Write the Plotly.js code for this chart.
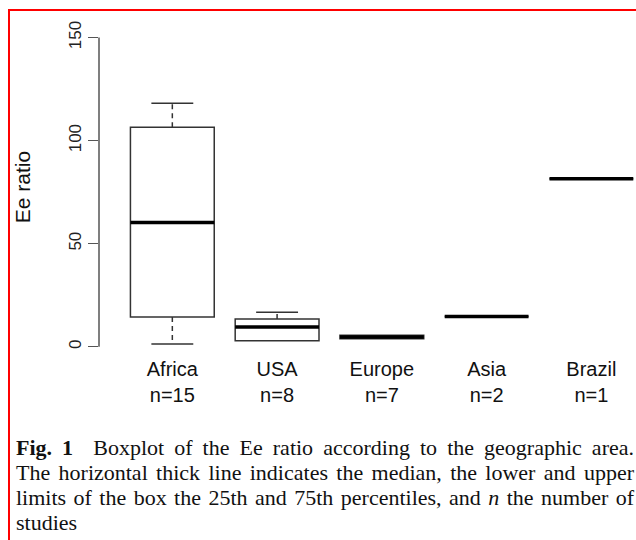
<!DOCTYPE html>
<html>
<head>
<meta charset="utf-8">
<script src="https://cdn.plot.ly/plotly-3.0.1.min.js"></script>
<style>
  html, body { margin: 0; padding: 0; background: #ffffff; overflow: hidden; }
  #wrap { position: relative; width: 636px; height: 540px; overflow: hidden; background: #fff; }
  #chart { position: absolute; left: 0; top: 0; width: 636px; height: 540px; }
  #frame { position: absolute; left: 8px; top: 9px; width: 700px; height: 600px;
           border-top: 2px solid #ff0000; border-left: 2px solid #ff0000; pointer-events: none; }
  #caption { position: absolute; left: 16px; top: 435px; width: 618px;
             font-family: "Liberation Serif", "Times New Roman", serif; font-size: 22px;
             line-height: 25px; color: #111; }
  #caption .ln { text-align: justify; text-align-last: justify; white-space: nowrap; }
  #caption .ln.last { text-align-last: left; }
</style>
</head>
<body>
<div id="wrap">
  <div id="chart"></div>
  <div id="frame"></div>
  <div id="caption">
    <div class="ln"><b>Fig. 1</b>&nbsp; Boxplot of the Ee ratio according to the geographic area.</div>
    <div class="ln">The horizontal thick line indicates the median, the lower and upper</div>
    <div class="ln">limits of the box the 25th and 75th percentiles, and <i>n</i> the number of</div>
    <div class="ln last">studies</div>
  </div>
</div>
<script>
// ---- data ----
var regions = ["Africa", "USA", "Europe", "Asia", "Brazil"];
var nStudies = [15, 8, 7, 2, 1];
var minVals = [1.3, 2.9, 3.9, 14.7, 81.5];
var q1Vals = [14.4, 2.9, 3.9, 14.7, 81.5];
var medianVals = [60.3, 9.6, 4.7, 14.7, 81.5];
var q3Vals = [106.5, 13.4, 5.5, 14.7, 81.5];
var maxVals = [118.1, 16.7, 5.5, 14.7, 81.5];
var yTicks = [0, 50, 100, 150];

// ---- styling constants ----
var BOXW = 0.8, CAPW = 0.4;
var lineCol = "#333333";

var idx = regions.map(function (_, i) { return i; });
var tickText = regions.map(function (r, i) { return r + "<br>n=" + nStudies[i]; });

var boxTrace = {
  type: "box",
  x: idx,
  q1: q1Vals,
  median: medianVals,
  q3: q3Vals,
  lowerfence: q1Vals,
  upperfence: q3Vals,
  width: BOXW,
  whiskerwidth: 0,
  fillcolor: "#ffffff",
  line: { color: lineCol, width: 1.5 },
  boxpoints: false,
  hoverinfo: "skip",
  showlegend: false
};

var medX = [], medY = [];
var whX = [], whY = [];
var capX = [], capY = [];
idx.forEach(function (i) {
  medX.push(i - BOXW / 2, i + BOXW / 2, null);
  medY.push(medianVals[i], medianVals[i], null);
  if (maxVals[i] > q3Vals[i]) {
    whX.push(i, i, null); whY.push(q3Vals[i], maxVals[i], null);
    capX.push(i - CAPW / 2, i + CAPW / 2, null); capY.push(maxVals[i], maxVals[i], null);
  }
  if (minVals[i] < q1Vals[i]) {
    whX.push(i, i, null); whY.push(q1Vals[i], minVals[i], null);
    capX.push(i - CAPW / 2, i + CAPW / 2, null); capY.push(minVals[i], minVals[i], null);
  }
});

var whiskerTrace = {
  type: "scatter", mode: "lines", x: whX, y: whY,
  line: { color: lineCol, width: 1.5, dash: "5px,4px" },
  hoverinfo: "skip", showlegend: false, connectgaps: false
};
var capTrace = {
  type: "scatter", mode: "lines", x: capX, y: capY,
  line: { color: lineCol, width: 1.5 },
  hoverinfo: "skip", showlegend: false, connectgaps: false
};
var medianTrace = {
  type: "scatter", mode: "lines", x: medX, y: medY,
  line: { color: "#000000", width: 3.5 },
  hoverinfo: "skip", showlegend: false, connectgaps: false
};

var layout = {
  width: 636, height: 540,
  margin: { l: 99, r: 0, t: 17, b: 183, pad: 0 },
  paper_bgcolor: "rgba(0,0,0,0)",
  plot_bgcolor: "rgba(0,0,0,0)",
  showlegend: false,
  font: { family: "Liberation Sans, Arial, sans-serif", color: "#111" },
  xaxis: {
    range: [-0.7, 4.426],
    tickvals: idx, ticktext: tickText,
    showline: false, showgrid: false, zeroline: false, ticks: "",
    ticklabelstandoff: -2,
    tickfont: { size: 20, family: "Liberation Sans, Arial, sans-serif", color: "#111" },
    fixedrange: true
  },
  yaxis: {
    range: [-5, 160],
    tickvals: yTicks,
    ticktext: yTicks.map(String),
    tickangle: -90,
    ticks: "outside", ticklen: 10, tickwidth: 1.5, tickcolor: "#555",
    showline: false, showgrid: false, zeroline: false,
    tickfont: { size: 17, family: "Liberation Sans, Arial, sans-serif", color: "#222" },
    title: { text: "Ee ratio", font: { size: 21, family: "Liberation Sans, Arial, sans-serif", color: "#111" }, standoff: 29 },
    fixedrange: true
  },
  shapes: [{
    type: "line", xref: "paper", x0: 0, x1: 0, yref: "y", y0: yTicks[0], y1: yTicks[yTicks.length - 1],
    line: { color: "#555", width: 1.5 }
  }]
};

Plotly.newPlot("chart", [boxTrace, whiskerTrace, capTrace, medianTrace], layout, { staticPlot: true, displayModeBar: false });
</script>
</body>
</html>
